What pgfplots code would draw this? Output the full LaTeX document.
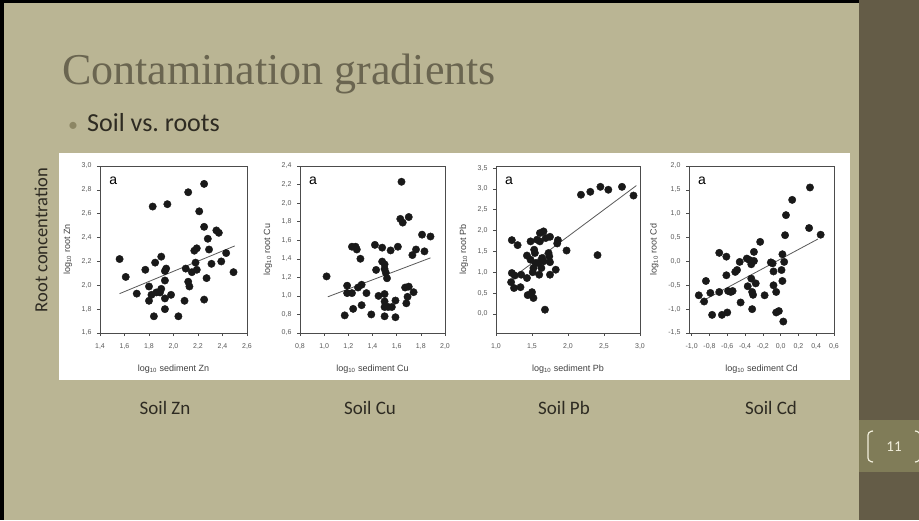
\documentclass[border=0pt]{standalone}
\usepackage{fontspec}
\setmainfont{Carlito}
\newfontfamily\titlefont{Liberation Serif}
\newfontfamily\figfont{Liberation Sans}
\usepackage{pgfplots}
\pgfplotsset{compat=1.18}
\definecolor{slidebg}{HTML}{BAB594}
\definecolor{darkpanel}{HTML}{645C47}
\definecolor{bandcol}{HTML}{807C58}
\definecolor{titlecol}{HTML}{6A6550}
\definecolor{textcol}{HTML}{2E2B22}
\definecolor{bulletcol}{HTML}{8C8664}
\definecolor{numcol}{HTML}{F2EFDC}

\pgfplotsset{panel/.style={
  scale only axis, height=167pt,
  axis line style={draw=black!70, line width=0.6pt},
  tick style={draw=black!70, line width=0.5pt},
  tick align=outside, major tick length=3pt,
  tick pos=left,
  ticklabel style={font=\figfont\fontsize{7}{8}\selectfont, text=black!65},
  xticklabel style={yshift=-4pt},
  yticklabel style={xshift=-2pt},
  label style={font=\figfont\fontsize{9}{10}\selectfont, text=black!75},
  xlabel shift=9pt,
  ylabel shift=3pt,
  /pgf/number format/use comma,
  /pgf/number format/fixed,
  /pgf/number format/fixed zerofill,
  /pgf/number format/precision=1,
  /pgf/number format/assume math mode=true,
},
dots/.style={only marks, mark=*, mark size=3.7pt, mark options={fill=black!90, draw=black!90}},
fitline/.style={no marks, draw=black!65, line width=0.8pt},
}

\begin{document}
\begin{tikzpicture}[x=1pt,y=1pt]
\useasboundingbox (0,0) rectangle (919,520);
\fill[slidebg] (0,0) rectangle (919,520);
\fill[darkpanel] (859,0) rectangle (919,520);
\fill[bandcol] (859,48) rectangle (919,100);
\fill[black] (0,0) rectangle (4,520);
\fill[black] (0,517) rectangle (859,520);
\fill[white] (59,140) rectangle (850,367);

% bracket and page number
\draw[numcol, line width=1.2pt, rounded corners=3pt] (873,89) -- (868,88) -- (868,59) -- (873,58);
\draw[numcol, line width=1.2pt, rounded corners=3pt] (915,89) -- (920,88) -- (920,59) -- (915,58);
\node[text=numcol, font=\fontsize{15}{15}\selectfont] at (894,73) {11};

% texts
\node[anchor=base west, text=titlecol, inner sep=0pt] at (62,435) {\titlefont\fontsize{44}{44}\selectfont Contamination gradients};
\node[anchor=base west, text=bulletcol, inner sep=0pt] at (68,388) {\fontsize{20}{20}\selectfont\textbullet};
\node[anchor=base west, text=textcol, inner sep=0pt] at (87,388) {\fontsize{26}{26}\selectfont Soil vs.\ roots};
\node[rotate=90, text=textcol, inner sep=0pt] at (41,280) {\fontsize{18.5}{18.5}\selectfont Root concentration};

\node[anchor=base, text=textcol, inner sep=0pt] at (165,105) {\fontsize{19}{19}\selectfont Soil Zn};
\node[anchor=base, text=textcol, inner sep=0pt] at (370,105) {\fontsize{19}{19}\selectfont Soil Cu};
\node[anchor=base, text=textcol, inner sep=0pt] at (564,105) {\fontsize{19}{19}\selectfont Soil Pb};
\node[anchor=base, text=textcol, inner sep=0pt] at (771,105) {\fontsize{19}{19}\selectfont Soil Cd};

% Panel Zn
\begin{axis}[panel, at={(100pt,187pt)}, anchor=south west, width=147pt,
  xmin=1.4, xmax=2.6, ymin=1.6, ymax=3.0,
  xtick={1.4,1.6,1.8,2.0,2.2,2.4,2.6}, ytick={1.6,1.8,2.0,2.2,2.4,2.6,2.8,3.0},
  xlabel={log\textsubscript{10} sediment Zn}, ylabel={log\textsubscript{10} root Zn}]
\addplot[dots] table {
1.56 2.22
1.61 2.07
1.70 1.93
1.77 2.13
1.83 2.66
1.95 2.68
1.85 2.19
1.90 2.24
1.80 1.99
1.80 1.87
1.82 1.92
1.84 1.74
1.86 1.94
1.89 1.94
1.90 1.97
1.93 2.04
1.93 2.12
1.94 2.14
1.93 1.89
1.93 1.80
1.98 1.92
2.04 1.74
2.09 1.87
2.10 2.14
2.12 2.78
2.12 2.03
2.13 1.99
2.15 2.11
2.17 2.29
2.19 2.31
2.18 2.19
2.19 2.13
2.21 2.62
2.25 2.85
2.25 2.49
2.25 1.88
2.27 2.06
2.28 2.39
2.29 2.30
2.31 2.18
2.35 2.46
2.37 2.44
2.39 2.20
2.43 2.27
2.49 2.11
};
\addplot[fitline] coordinates {(1.56,1.93) (2.50,2.33)};
\node[anchor=center, font=\figfont\fontsize{14}{14}\selectfont] at (rel axis cs:0.09,0.91) {a};
\end{axis}

% Panel Cu
\begin{axis}[panel, at={(300pt,187pt)}, anchor=south west, width=145pt,
  xmin=0.8, xmax=2.0, ymin=0.6, ymax=2.4,
  xtick={0.8,1.0,1.2,1.4,1.6,1.8,2.0}, ytick={0.6,0.8,1.0,1.2,1.4,1.6,1.8,2.0,2.2,2.4},
  xlabel={log\textsubscript{10} sediment Cu}, ylabel={log\textsubscript{10} root Cu}]
\addplot[dots] table {
1.02 1.21
1.17 0.79
1.19 1.11
1.19 1.03
1.23 1.03
1.24 0.86
1.23 1.53
1.26 1.53
1.27 1.50
1.28 1.09
1.30 1.40
1.31 0.90
1.31 1.12
1.35 1.03
1.39 0.80
1.42 1.55
1.43 1.28
1.45 1.00
1.48 1.52
1.48 1.37
1.50 1.34
1.50 1.29
1.51 1.25
1.52 1.19
1.50 1.02
1.50 0.94
1.50 0.88
1.50 0.78
1.53 0.88
1.55 1.49
1.56 0.88
1.59 0.95
1.59 0.77
1.61 1.53
1.63 1.83
1.64 2.23
1.65 1.79
1.67 1.09
1.68 0.92
1.69 0.99
1.70 1.10
1.70 1.85
1.73 1.44
1.74 1.04
1.76 1.50
1.81 1.66
1.83 1.48
1.88 1.64
};
\addplot[fitline] coordinates {(1.03,0.99) (1.88,1.41)};
\node[anchor=center, font=\figfont\fontsize{14}{14}\selectfont] at (rel axis cs:0.09,0.91) {a};
\end{axis}

% Panel Pb
\begin{axis}[panel, at={(496pt,187pt)}, anchor=south west, width=144pt,
  xmin=1.0, xmax=3.0, ymin=-0.46, ymax=3.55,
  xtick={1.0,1.5,2.0,2.5,3.0}, ytick={0,0.5,1.0,1.5,2.0,2.5,3.0,3.5},
  xlabel={log\textsubscript{10} sediment Pb}, ylabel={log\textsubscript{10} root Pb}]
\addplot[dots] table {
1.22 1.77
1.30 1.65
1.21 0.76
1.22 0.98
1.26 0.92
1.25 0.62
1.34 0.64
1.35 0.94
1.43 0.86
1.43 1.40
1.44 0.45
1.48 1.74
1.48 1.30
1.50 0.52
1.52 0.38
1.51 1.00
1.52 1.10
1.53 1.54
1.54 1.46
1.55 1.22
1.57 1.78
1.59 1.22
1.60 0.94
1.61 1.74
1.61 1.94
1.63 1.10
1.64 1.34
1.66 1.98
1.66 1.26
1.68 0.10
1.69 1.82
1.73 1.46
1.74 1.38
1.75 1.24
1.75 1.85
1.75 0.94
1.83 1.06
1.85 1.69
1.86 1.77
1.98 1.52
2.18 2.86
2.31 2.93
2.41 1.41
2.45 3.05
2.56 2.98
2.75 3.05
2.91 2.84
};
\addplot[fitline] coordinates {(1.27,0.92) (2.95,3.08)};
\node[anchor=center, font=\figfont\fontsize{14}{14}\selectfont] at (rel axis cs:0.09,0.91) {a};
\end{axis}

% Panel Cd
\begin{axis}[panel, at={(689pt,187pt)}, anchor=south west, width=145pt,
  xmin=-1.03, xmax=0.6, ymin=-1.5, ymax=2.0,
  xtick={-1.0,-0.8,-0.6,-0.4,-0.2,0,0.2,0.4,0.6}, ytick={-1.5,-1.0,-0.5,0,0.5,1.0,1.5,2.0},
  xlabel={log\textsubscript{10} sediment Cd}, ylabel={log\textsubscript{10} root Cd}]
\addplot[dots] table {
-0.92 -0.71
-0.86 -0.84
-0.84 -0.41
-0.79 -0.66
-0.77 -1.12
-0.69 0.18
-0.69 -0.64
-0.66 -1.12
-0.61 0.10
-0.61 -0.29
-0.60 -1.07
-0.59 -0.62
-0.56 -0.64
-0.54 -0.62
-0.51 -0.22
-0.49 -0.18
-0.46 -0.01
-0.45 -0.86
-0.38 0.06
-0.37 -0.52
-0.35 0.03
-0.33 -0.36
-0.33 -0.06
-0.32 -0.64
-0.31 -0.70
-0.32 -1.00
-0.30 0.01
-0.30 0.20
-0.28 -0.46
-0.23 0.41
-0.18 -0.71
-0.11 -0.02
-0.09 -0.04
-0.08 -0.21
-0.08 -0.50
-0.05 -0.64
-0.05 -1.07
-0.02 -1.04
0.01 -0.18
0.02 0.15
0.02 -0.41
0.03 -1.26
0.04 -0.01
0.05 0.55
0.06 0.97
0.13 1.29
0.32 0.70
0.33 1.55
0.45 0.56
};
\addplot[fitline] coordinates {(-0.91,-0.86) (0.42,0.47)};
\node[anchor=center, font=\figfont\fontsize{14}{14}\selectfont] at (rel axis cs:0.09,0.91) {a};
\end{axis}
\end{tikzpicture}
\end{document}
